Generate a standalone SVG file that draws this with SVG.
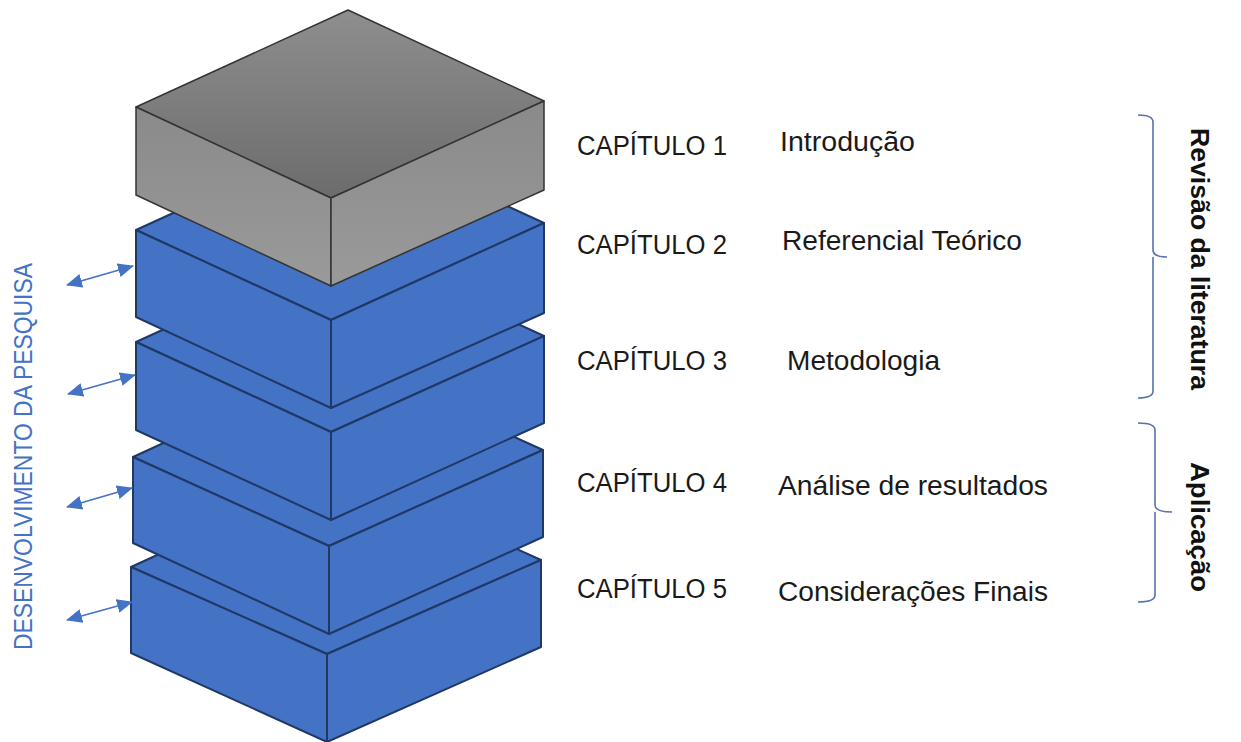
<svg xmlns="http://www.w3.org/2000/svg" width="1241" height="742" viewBox="0 0 1241 742">
  <defs>
    <linearGradient id="gTop" x1="0" y1="0" x2="0" y2="1">
      <stop offset="0" stop-color="#8e8e8e"/>
      <stop offset="1" stop-color="#6c6c6c"/>
    </linearGradient>
    <linearGradient id="gSide" x1="0" y1="0" x2="0" y2="1">
      <stop offset="0" stop-color="#8a8a8a"/>
      <stop offset="1" stop-color="#9a9a9a"/>
    </linearGradient>
    <marker id="ah" markerUnits="userSpaceOnUse" markerWidth="16" markerHeight="14" refX="15" refY="7" orient="auto-start-reverse">
      <path d="M0,0 L16,7 L0,14 z" fill="#4472C4"/>
    </marker>
  </defs>
  <style>
    .blue { fill: #4472C4; stroke: #1F3864; stroke-width: 2; stroke-linejoin: round; }
    .gtop { fill: url(#gTop); stroke: #333; stroke-width: 1.5; stroke-linejoin: round; }
    .gside { fill: url(#gSide); stroke: #333; stroke-width: 1.5; stroke-linejoin: round; }
    .lbl { font-family: "Liberation Sans", Arial, sans-serif; font-size: 27px; fill: #1a1a1a; }
    .side { font-family: "Liberation Sans", Arial, sans-serif; font-size: 26px; font-weight: bold; fill: #111; }
    .vert { font-family: "Liberation Sans", Arial, sans-serif; font-size: 26px; fill: #4472C4; }
    .arr { stroke: #4472C4; stroke-width: 1.6; fill: none; marker-start: url(#ah); marker-end: url(#ah); }
    .brace { stroke: #5573b0; stroke-width: 1.6; fill: none; }
  </style>

  <!-- Boxes, drawn bottom to top -->
  <g id="box5">
    <polygon class="blue" points="131,567 343,470 541,560 327,654"/>
    <polygon class="blue" points="131,567 327,654 327,742 131,653"/>
    <polygon class="blue" points="327,654 541,560 541,647 327,742"/>
  </g>
  <g id="box4">
    <polygon class="blue" points="133,457 345,360 543,450 329,546"/>
    <polygon class="blue" points="133,457 329,546 329,634 133,543"/>
    <polygon class="blue" points="329,546 543,450 543,537 329,634"/>
  </g>
  <g id="box3">
    <polygon class="blue" points="136,342 348,245 544,336 331,432"/>
    <polygon class="blue" points="136,342 331,432 331,520 136,430"/>
    <polygon class="blue" points="331,432 544,336 544,423 331,520"/>
  </g>
  <g id="box2">
    <polygon class="blue" points="136,230 348,133 544,223 331,320"/>
    <polygon class="blue" points="136,230 331,320 331,408 136,317"/>
    <polygon class="blue" points="331,320 544,223 544,313 331,408"/>
  </g>
  <g id="box1">
    <polygon class="gtop" points="136,107 348,10 544,101 331,198"/>
    <polygon class="gside" points="136,107 331,198 331,286 136,195"/>
    <polygon class="gside" points="331,198 544,101 544,190 331,286"/>
  </g>

  <!-- Connectors -->
  <g id="connectors">
    <line class="arr" x1="67" y1="285" x2="133" y2="266"/>
    <line class="arr" x1="68" y1="394" x2="135" y2="375"/>
    <line class="arr" x1="67" y1="507" x2="132" y2="488"/>
    <line class="arr" x1="67" y1="620" x2="132" y2="602"/>
  </g>

  <!-- Braces -->
  <g id="brace-revisao">
    <path class="brace" d="M1138,115 Q1153,115 1153,122 L1153,250 Q1153,257 1167,257 M1153,257 Q1153,264 1153,270 L1153,391 Q1153,398 1138,398"/>
  </g>
  <g id="brace-aplicacao">
    <path class="brace" d="M1138,423 Q1155,423 1155,430 L1155,505 Q1155,512 1172,512 M1155,512 Q1155,519 1155,525 L1155,595 Q1155,602 1138,602"/>
  </g>

  <!-- Labels -->
  <g id="ch1">
    <text class="lbl" x="577" y="155" textLength="150" lengthAdjust="spacingAndGlyphs">CAPÍTULO 1</text>
    <text class="lbl" x="780" y="151" textLength="135" lengthAdjust="spacingAndGlyphs">Introdução</text>
  </g>
  <g id="ch2">
    <text class="lbl" x="577" y="254" textLength="150" lengthAdjust="spacingAndGlyphs">CAPÍTULO 2</text>
    <text class="lbl" x="782" y="250" textLength="240" lengthAdjust="spacingAndGlyphs">Referencial Teórico</text>
  </g>
  <g id="ch3">
    <text class="lbl" x="577" y="370" textLength="150" lengthAdjust="spacingAndGlyphs">CAPÍTULO 3</text>
    <text class="lbl" x="787" y="370" textLength="153" lengthAdjust="spacingAndGlyphs">Metodologia</text>
  </g>
  <g id="ch4">
    <text class="lbl" x="577" y="492" textLength="150" lengthAdjust="spacingAndGlyphs">CAPÍTULO 4</text>
    <text class="lbl" x="778" y="495" textLength="270" lengthAdjust="spacingAndGlyphs">Análise de resultados</text>
  </g>
  <g id="ch5">
    <text class="lbl" x="577" y="598" textLength="150" lengthAdjust="spacingAndGlyphs">CAPÍTULO 5</text>
    <text class="lbl" x="778" y="601" textLength="270" lengthAdjust="spacingAndGlyphs">Considerações Finais</text>
  </g>

  <g id="label-desenvolvimento">
    <text class="vert" transform="translate(32,456.5) rotate(-90)" text-anchor="middle" textLength="387" lengthAdjust="spacingAndGlyphs">DESENVOLVIMENTO DA PESQUISA</text>
  </g>
  <g id="label-revisao">
    <text class="side" transform="translate(1191,259) rotate(90)" text-anchor="middle" textLength="262" lengthAdjust="spacingAndGlyphs">Revisão da literatura</text>
  </g>
  <g id="label-aplicacao">
    <text class="side" transform="translate(1191,527) rotate(90)" text-anchor="middle" textLength="130" lengthAdjust="spacingAndGlyphs">Aplicação</text>
  </g>
</svg>
